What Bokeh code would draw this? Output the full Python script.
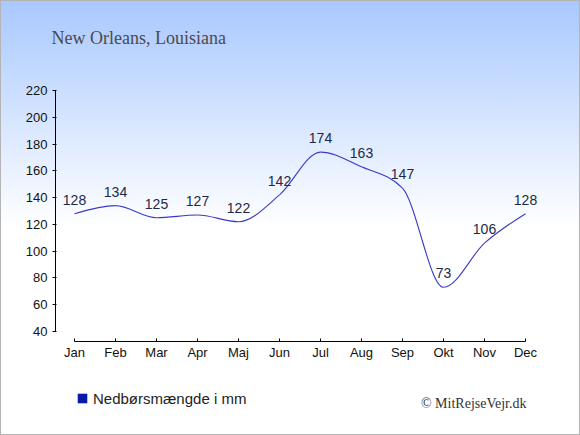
import numpy as np
from bokeh.plotting import figure
from bokeh.models import FixedTicker, Label, Legend, LegendItem, ColumnDataSource
from bokeh.embed import file_html
from bokeh.resources import INLINE
from bokeh.core.properties import value

# ---- data ----
months = ["Jan", "Feb", "Mar", "Apr", "Maj", "Jun", "Jul", "Aug", "Sep", "Okt", "Nov", "Dec"]
rain = [128, 134, 125, 127, 122, 142, 174, 163, 147, 73, 106, 128]
y_ticks = [40, 60, 80, 100, 120, 140, 160, 180, 200, 220]
title_text = "New Orleans, Louisiana"
legend_text = "Nedbørsmængde i mm"
credit_text = "© MitRejseVejr.dk"

xs = list(range(len(months)))

# ---- monotone (d3 monotoneX style) bezier segments ----
def _sign(v):
    return (v > 0) - (v < 0)

def slope3(x0, y0, x1, y1, x2, y2):
    h0, h1 = x1 - x0, x2 - x1
    s0, s1 = (y1 - y0) / h0, (y2 - y1) / h1
    pp = (s0 * h1 + s1 * h0) / (h0 + h1)
    return (_sign(s0) + _sign(s1)) * min(abs(s0), abs(s1), 0.5 * abs(pp))

n = len(xs)
tang = [0.0] * n
for i in range(1, n - 1):
    tang[i] = slope3(xs[i - 1], rain[i - 1], xs[i], rain[i], xs[i + 1], rain[i + 1])
tang[0] = (3 * (rain[1] - rain[0]) / (xs[1] - xs[0]) - tang[1]) / 2
tang[-1] = (3 * (rain[-1] - rain[-2]) / (xs[-1] - xs[-2]) - tang[-2]) / 2

seg = dict(x0=[], y0=[], x1=[], y1=[], cx0=[], cy0=[], cx1=[], cy1=[])
for i in range(n - 1):
    dx = (xs[i + 1] - xs[i]) / 3
    seg["x0"].append(xs[i]); seg["y0"].append(rain[i])
    seg["x1"].append(xs[i + 1]); seg["y1"].append(rain[i + 1])
    seg["cx0"].append(xs[i] + dx); seg["cy0"].append(rain[i] + dx * tang[i])
    seg["cx1"].append(xs[i + 1] - dx); seg["cy1"].append(rain[i + 1] - dx * tang[i + 1])

# ---- figure: frame covers the whole canvas, axes at fixed locations ----
W, H = 580, 435
jan_px, px_x = 74.0, 41.0          # pixel of first month, pixels per month
y40_px, px_y = 331.0, 241.0 / 180.0  # pixel of value 40, pixels per unit
yaxis_px, xaxis_px = 55.0, 341.0

x_start = -jan_px / px_x
x_end = (W - jan_px) / px_x
y_start = 40 - (H - y40_px) / px_y
y_end = 40 + y40_px / px_y

p = figure(
    width=W, height=H, output_backend="svg", toolbar_location=None,
    x_range=(x_start, x_end), y_range=(y_start, y_end),
    min_border=0, min_border_left=0, min_border_right=0,
    min_border_top=0, min_border_bottom=0,
    background_fill_color=None, border_fill_color=None,
    outline_line_color=None,
    styles={"background": "linear-gradient(to bottom, #a8c8ff 0%, #ffffff 52%, #ffffff 100%)",
            "box-shadow": "inset 0 0 0 1px #b4b4b4"},
)
p.grid.visible = False

# x axis
xa = p.xaxis[0]
xa.fixed_location = 40 - (xaxis_px - y40_px) / px_y
xa.ticker = FixedTicker(ticks=xs)
xa.major_label_overrides = {i: m for i, m in enumerate(months)}
xa.bounds = (0, 11)
xa.major_tick_in = 3
xa.major_tick_out = 0
xa.minor_tick_line_color = None
xa.major_label_standoff = 3
xa.major_label_text_font = "Liberation Sans"
xa.major_label_text_font_size = "13px"
xa.major_label_text_color = "#111111"
xa.axis_line_color = "#000000"
xa.major_tick_line_color = "#000000"

# y axis
ya = p.yaxis[0]
ya.fixed_location = (yaxis_px - jan_px) / px_x
ya.ticker = FixedTicker(ticks=y_ticks)
ya.bounds = (40, 220)
ya.major_tick_in = 1
ya.major_tick_out = 3
ya.minor_tick_line_color = None
ya.major_label_standoff = 5
ya.major_label_text_font = "Liberation Sans"
ya.major_label_text_font_size = "13px"
ya.major_label_text_color = "#111111"
ya.axis_line_color = "#000000"
ya.major_tick_line_color = "#000000"

# line
p.bezier(source=ColumnDataSource(seg), x0="x0", y0="y0", x1="x1", y1="y1",
         cx0="cx0", cy0="cy0", cx1="cx1", cy1="cy1",
         line_color="#3a3ac8", line_width=1.1)

# value labels
p.text(x=xs, y=rain, text=[str(v) for v in rain],
       text_align="center", text_baseline="alphabetic", y_offset=-14,
       text_font=value("Liberation Sans"), text_font_size="14px",
       text_color="#1c2a48")

# legend (renderer with a single NaN row: draws nothing, gives the legend swatch)
dummy = p.quad(left=[np.nan], right=[np.nan], top=[np.nan], bottom=[np.nan],
               fill_color="#0a1aa8", line_color=None)
legend = Legend(items=[LegendItem(label=legend_text, renderers=[dummy])],
                location=(76, H - 406.5), glyph_width=12, glyph_height=12,
                label_standoff=5, padding=0, margin=0, spacing=0,
                border_line_color=None, background_fill_alpha=0,
                label_text_font="Liberation Sans", label_text_font_size="15px",
                label_text_color="#222222", label_height=15)
p.add_layout(legend)

# title and credit
p.add_layout(Label(x=51, y=H - 37.7, x_units="screen", y_units="screen",
                   text=title_text, text_font="Liberation Serif",
                   text_font_size="18px", text_color="#4a4a4a",
                   text_baseline="alphabetic", text_align="left"))
p.add_layout(Label(x=526, y=H - 402.5, x_units="screen", y_units="screen",
                   text=credit_text, text_font="Liberation Serif",
                   text_font_size="14px", text_color="#333333",
                   text_baseline="alphabetic", text_align="right"))

open("out.html", "w").write(file_html(p, INLINE))
